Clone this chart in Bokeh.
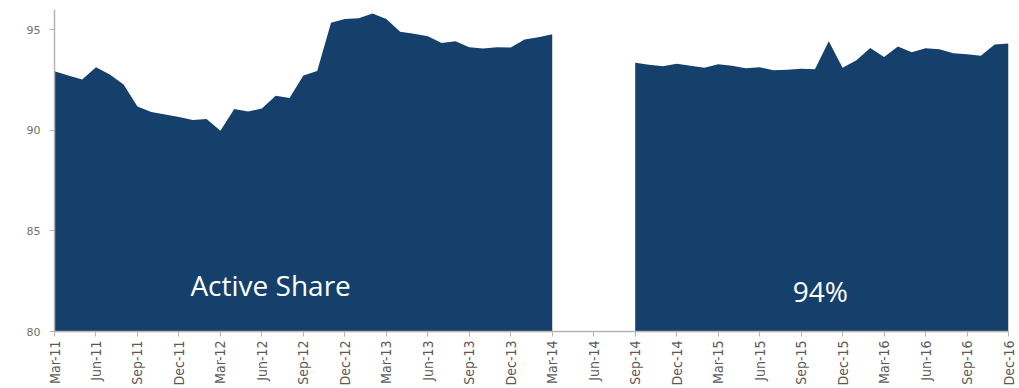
import math
from bokeh.plotting import figure
from bokeh.models import Range1d, FixedTicker, ColumnDataSource
from bokeh.core.properties import value
from bokeh.embed import file_html
from bokeh.resources import INLINE

# Monthly labels Mar-11 .. Dec-16
month_names = ["Jan", "Feb", "Mar", "Apr", "May", "Jun", "Jul", "Aug", "Sep", "Oct", "Nov", "Dec"]
months = []
for yr in range(11, 17):
    for mi, mn in enumerate(month_names):
        if yr == 11 and mi < 2:
            continue
        months.append(f"{mn}-{yr}")

# Active share (%) per month; None = no data
active_share = [
    92.93, 92.72, 92.52, 93.13, 92.77, 92.27, 91.18, 90.91, 90.78, 90.66, 90.51, 90.56,   # Mar-11..Feb-12
    89.97, 91.06, 90.93, 91.08, 91.72, 91.60, 92.72, 92.95, 95.34, 95.53, 95.56, 95.80,   # Mar-12..Feb-13
    95.53, 94.89, 94.79, 94.67, 94.34, 94.42, 94.12, 94.06, 94.12, 94.11, 94.51, 94.62,   # Mar-13..Feb-14
    94.77, None, None, None, None, None, 93.35, 93.26, 93.18, 93.31, 93.21, 93.11,        # Mar-14..Feb-15
    93.28, 93.21, 93.08, 93.13, 92.98, 93.01, 93.06, 93.03, 94.42, 93.10, 93.48, 94.09,   # Mar-15..Feb-16
    93.64, 94.16, 93.88, 94.08, 94.03, 93.82, 93.78, 93.70, 94.26, 94.31,                 # Mar-16..Dec-16
]

y_ticks = [80, 85, 90, 95]
y_min, y_max = 80, 96

label_left = "Active Share"
label_right = "94%"

FILL = "#15406b"
AXIS = "#b3b3b3"

p = figure(width=1019, height=388, output_backend="svg", toolbar_location=None,
           x_range=Range1d(0, len(months) - 1), y_range=Range1d(y_min, y_max),
           min_border_left=54, min_border_right=11, min_border_top=9, min_border_bottom=56)
p.outline_line_color = None
p.xgrid.grid_line_color = None
p.ygrid.grid_line_color = None
p.background_fill_color = "white"
p.border_fill_color = "white"

# split into contiguous segments
segs = []
cur = []
for i, v in enumerate(active_share):
    if v is None:
        if cur:
            segs.append(cur)
            cur = []
    else:
        cur.append(i)
if cur:
    segs.append(cur)
for seg in segs:
    src = ColumnDataSource(dict(x=seg, y=[active_share[i] for i in seg], base=[y_min] * len(seg)))
    p.varea(x="x", y1="base", y2="y", source=src, fill_color=FILL)

# texts
txt = ColumnDataSource(dict(x=[9.83, 53.4], y=[82.33, 82.0], t=[label_left, label_right]))
p.text(x="x", y="y", text="t", source=txt, text_color="white",
       text_font=value("Open Sans"), text_font_size="28px",
       text_baseline="alphabetic", text_align="left")

# x axis
p.xaxis.ticker = FixedTicker(ticks=list(range(0, len(months), 3)))
p.xaxis.major_label_overrides = {i: months[i] for i in range(0, len(months), 3)}
p.xaxis.major_label_orientation = math.pi / 2
p.xaxis.major_label_text_font = "DejaVu Sans Condensed"
p.xaxis.major_label_text_font_size = "14px"
p.xaxis.major_label_text_color = "#5a5a5a"
p.xaxis.major_label_standoff = 4
p.xaxis.axis_line_color = AXIS
p.xaxis.axis_line_width = 1.5
p.xaxis.major_tick_line_color = AXIS
p.xaxis.major_tick_in = 0
p.xaxis.major_tick_out = 5
p.xaxis.minor_tick_line_color = None

# y axis
p.yaxis.ticker = FixedTicker(ticks=y_ticks)
p.yaxis.major_label_text_font = "DejaVu Sans"
p.yaxis.major_label_text_font_size = "11px"
p.yaxis.major_label_text_color = "#707070"
p.yaxis.major_label_standoff = 9
p.yaxis.axis_line_color = AXIS
p.yaxis.axis_line_width = 1.5
p.yaxis.major_tick_line_color = AXIS
p.yaxis.major_tick_in = 0
p.yaxis.major_tick_out = 5
p.yaxis.minor_tick_line_color = None

open("out.html", "w").write(file_html(p, INLINE))
